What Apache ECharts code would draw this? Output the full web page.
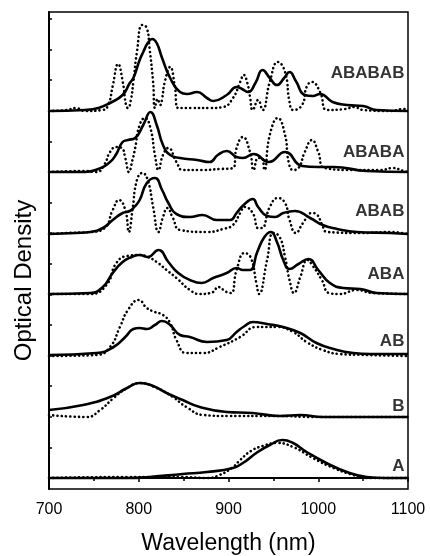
<!DOCTYPE html>
<html><head><meta charset="utf-8">
<script src="https://cdn.jsdelivr.net/npm/echarts@6/dist/echarts.min.js"></script>
<style>html,body{margin:0;padding:0;background:#fff}#c{width:430px;height:556px}</style>
</head><body><div id="c"></div>
<script>
// Wavelength (nm) vs optical density (arbitrary units; one left-axis tick step = 30.6 units)
const names = ['A','B','AB','ABA','ABAB','ABABA','ABABAB'];
const offsets = [0, 61, 122, 184, 244, 306, 367];
const labelY = [12, 72, 137, 204, 267, 326, 405];
const xTicks = [700, 800, 900, 1000, 1100];
const yTickStep = 30.6;

const A_solid = [[700,0],[731,0],[787,0],[812,1],[849,4],[876,6],[905,10],[916,15],[931,25],[946,33],[960,38],[972,35],[987,26],[1009,15],[1032,6],[1054,1],[1075,0],[1100,0]];
const A_dotted = [[700,0],[787,1],[849,1],[876,0],[890,3],[905,11],[913,18],[925,27],[938,32],[954,35],[972,31],[994,20],[1017,10],[1039,3],[1054,0],[1100,0]];
const B_solid = [[700,7],[738,12],[768,20],[787,29],[801,34],[816,31],[831,24],[849,17],[868,10],[898,5],[927,4],[957,1],[980,2],[1005,0],[1100,0]];
const B_dotted = [[700,2],[742,0],[757,7],[772,19],[787,29],[801,34],[820,29],[838,20],[853,10],[872,2],[900,1],[950,1],[1000,0],[1100,0]];
const AB_solid = [[700,1],[753,3],[772,9],[785,19],[794,27],[801,28],[809,27],[818,31],[826,35],[835,31],[846,21],[857,19],[876,14],[898,16],[909,24],[918,30],[927,34],[943,32],[961,29],[980,23],[998,13],[1017,7],[1039,3],[1058,2],[1100,2]];
const AB_dotted = [[700,0],[753,1],[768,9],[779,29],[788,46],[800,56],[809,48],[818,44],[827,41],[835,33],[842,16],[853,3],[872,3],[890,9],[913,19],[931,29],[954,29],[972,24],[987,14],[1005,6],[1024,2],[1054,1],[1100,0]];
const ABA_solid = [[700,0],[746,1],[760,7],[771,21],[782,32],[792,37],[801,39],[810,37],[822,44],[833,32],[844,21],[857,14],[870,11],[883,16],[898,21],[909,26],[916,24],[924,24],[932,42],[940,57],[947,62],[954,52],[961,34],[968,25],[978,30],[989,35],[1000,24],[1013,11],[1028,6],[1047,5],[1065,1],[1100,0]];
const ABA_dotted = [[700,0],[746,0],[764,9],[775,31],[787,38],[801,39],[810,37],[820,32],[831,24],[842,16],[857,4],[868,0],[883,2],[888,7],[898,2],[903,1],[909,24],[918,41],[925,36],[931,11],[934,0],[943,34],[950,61],[957,57],[963,37],[968,14],[973,1],[980,17],[988,34],[994,28],[1004,14],[1012,1],[1024,0],[1043,4],[1060,1],[1100,0]];
const ABAB_solid = [[700,0],[730,1],[746,2],[760,6],[771,14],[782,21],[790,23],[795,27],[801,34],[809,51],[818,56],[826,44],[833,31],[842,20],[857,17],[871,19],[887,14],[902,14],[909,21],[918,30],[927,35],[933,27],[943,18],[952,17],[961,21],[974,23],[991,16],[1005,9],[1021,5],[1043,2],[1080,1],[1100,0]];
const ABAB_dotted = [[700,0],[720,1],[746,2],[762,6],[771,24],[778,34],[785,24],[789,2],[793,24],[798,54],[804,61],[810,54],[816,27],[822,2],[827,17],[832,26],[838,16],[846,4],[876,2],[894,5],[905,9],[913,21],[918,27],[927,21],[933,6],[937,6],[946,27],[955,36],[963,31],[968,14],[975,1],[983,11],[993,21],[999,19],[1004,10],[1010,2],[1050,1],[1080,2],[1100,0]];
const ABABA_solid = [[700,0],[740,0],[755,3],[768,10],[775,18],[782,30],[788,32],[796,34],[805,47],[813,60],[820,47],[827,27],[835,17],[846,14],[865,12],[879,10],[888,17],[898,21],[909,15],[916,14],[928,18],[945,10],[963,20],[982,6],[1000,5],[1017,5],[1054,1],[1100,0]];
const ABABA_dotted = [[700,0],[740,1],[753,0],[762,8],[768,20],[775,25],[781,24],[785,14],[789,0],[793,12],[796,24],[801,47],[807,54],[813,44],[818,17],[822,2],[827,17],[833,24],[842,10],[849,2],[870,2],[890,3],[905,4],[909,24],[916,35],[924,20],[928,2],[933,14],[937,14],[940,2],[946,37],[955,54],[963,37],[967,10],[972,2],[978,4],[985,20],[993,32],[1000,20],[1007,4],[1040,2],[1070,2],[1083,4],[1095,1],[1100,0]];
const ABABAB_solid = [[700,0],[740,1],[755,3],[768,8],[782,16],[790,28],[794,33],[801,51],[805,59],[810,68],[815,72],[820,68],[826,53],[835,33],[846,19],[854,17],[865,19],[876,13],[883,10],[898,16],[909,24],[915,22],[922,19],[930,28],[938,41],[946,33],[954,26],[962,33],[968,39],[975,30],[985,16],[994,15],[1002,17],[1016,9],[1032,6],[1050,5],[1065,1],[1100,0]];
const ABABAB_dotted = [[700,0],[720,1],[730,3],[740,0],[760,1],[766,6],[771,25],[777,47],[782,30],[786,5],[788,3],[791,10],[794,29],[798,59],[804,86],[809,83],[812,63],[816,29],[818,3],[821,12],[824,6],[826,12],[829,29],[835,44],[840,26],[844,3],[860,3],[880,3],[894,4],[905,13],[913,29],[917,36],[921,28],[924,14],[927,1],[933,11],[938,1],[946,29],[955,49],[963,39],[968,9],[972,1],[982,6],[987,24],[993,29],[1002,19],[1010,1],[1030,2],[1040,4],[1050,1],[1080,0],[1095,2],[1100,0]];

const solids = [A_solid, B_solid, AB_solid, ABA_solid, ABAB_solid, ABABA_solid, ABABAB_solid];
const dotteds = [A_dotted, B_dotted, AB_dotted, ABA_dotted, ABAB_dotted, ABABA_dotted, ABABAB_dotted];

const yTicks = [];
for (let i = 0; i <= 15; i++) yTicks.push(+(i * yTickStep).toFixed(1));

const FONT = 'Liberation Sans, Arial, sans-serif';
const series = [];
names.forEach((n, i) => {
  const off = offsets[i];
  series.push({
    type: 'line', name: n + ' dotted', showSymbol: false, smooth: 0.5,
    data: dotteds[i].map(p => [p[0], p[1] + off]),
    lineStyle: { color: '#000', width: 2.6, type: [0.1, 4.2], cap: 'round' },
    silent: true, z: 2
  });
  series.push({
    type: 'line', name: n + ' solid', showSymbol: false, smooth: 0.5,
    data: solids[i].map(p => [p[0], p[1] + off]),
    lineStyle: { color: '#000', width: 2.6, join: 'round' },
    silent: true, z: 3
  });
});
series.push({
  type: 'scatter', symbolSize: 0, silent: true,
  data: names.map((n, i) => ({ name: n, value: [1096, labelY[i]] })),
  label: { show: true, position: 'left', distance: 0, formatter: p => p.name,
    color: '#000', fontFamily: FONT, fontWeight: 'bold', fontSize: 17 }
});

const chart = echarts.init(document.getElementById('c'), null, { renderer: 'canvas' });
chart.setOption({
  animation: false,
  backgroundColor: '#fff',
  grid: { left: 49, right: 22, top: 12, bottom: 67, show: true, borderColor: '#000', borderWidth: 1.5,
    containLabel: false, outerBoundsMode: 'none' },
  xAxis: {
    type: 'value', min: 700, max: 1100, interval: 100,
    name: 'Wavelength (nm)', nameLocation: 'middle', nameGap: 43,
    nameTextStyle: { fontFamily: FONT, fontSize: 23, color: '#000' },
    axisLine: { lineStyle: { color: '#000', width: 2 } },
    axisTick: { inside: false, length: 4, lineStyle: { color: '#000', width: 1.5 } },
    minorTick: { show: true, splitNumber: 2, length: 3, lineStyle: { color: '#000', width: 1.5 } },
    splitLine: { show: false },
    axisLabel: { color: '#000', fontFamily: FONT, fontSize: 16, margin: 13,
      customValues: xTicks, formatter: v => String(v) }
  },
  yAxis: {
    type: 'value', min: -11, max: 466,
    name: 'Optical Density', nameLocation: 'middle', nameGap: 13, nameRotate: 90,
    nameTextStyle: { fontFamily: FONT, fontSize: 24, color: '#000', padding: [0, 60, 0, 0] },
    axisLine: { show: true, lineStyle: { color: '#000', width: 2 } },
    axisTick: { show: true, inside: true, length: 3, lineStyle: { color: '#000', width: 1.5 }, customValues: yTicks },
    axisLabel: { show: false, customValues: yTicks },
    splitLine: { show: false }
  },
  series
});
</script></body></html>
